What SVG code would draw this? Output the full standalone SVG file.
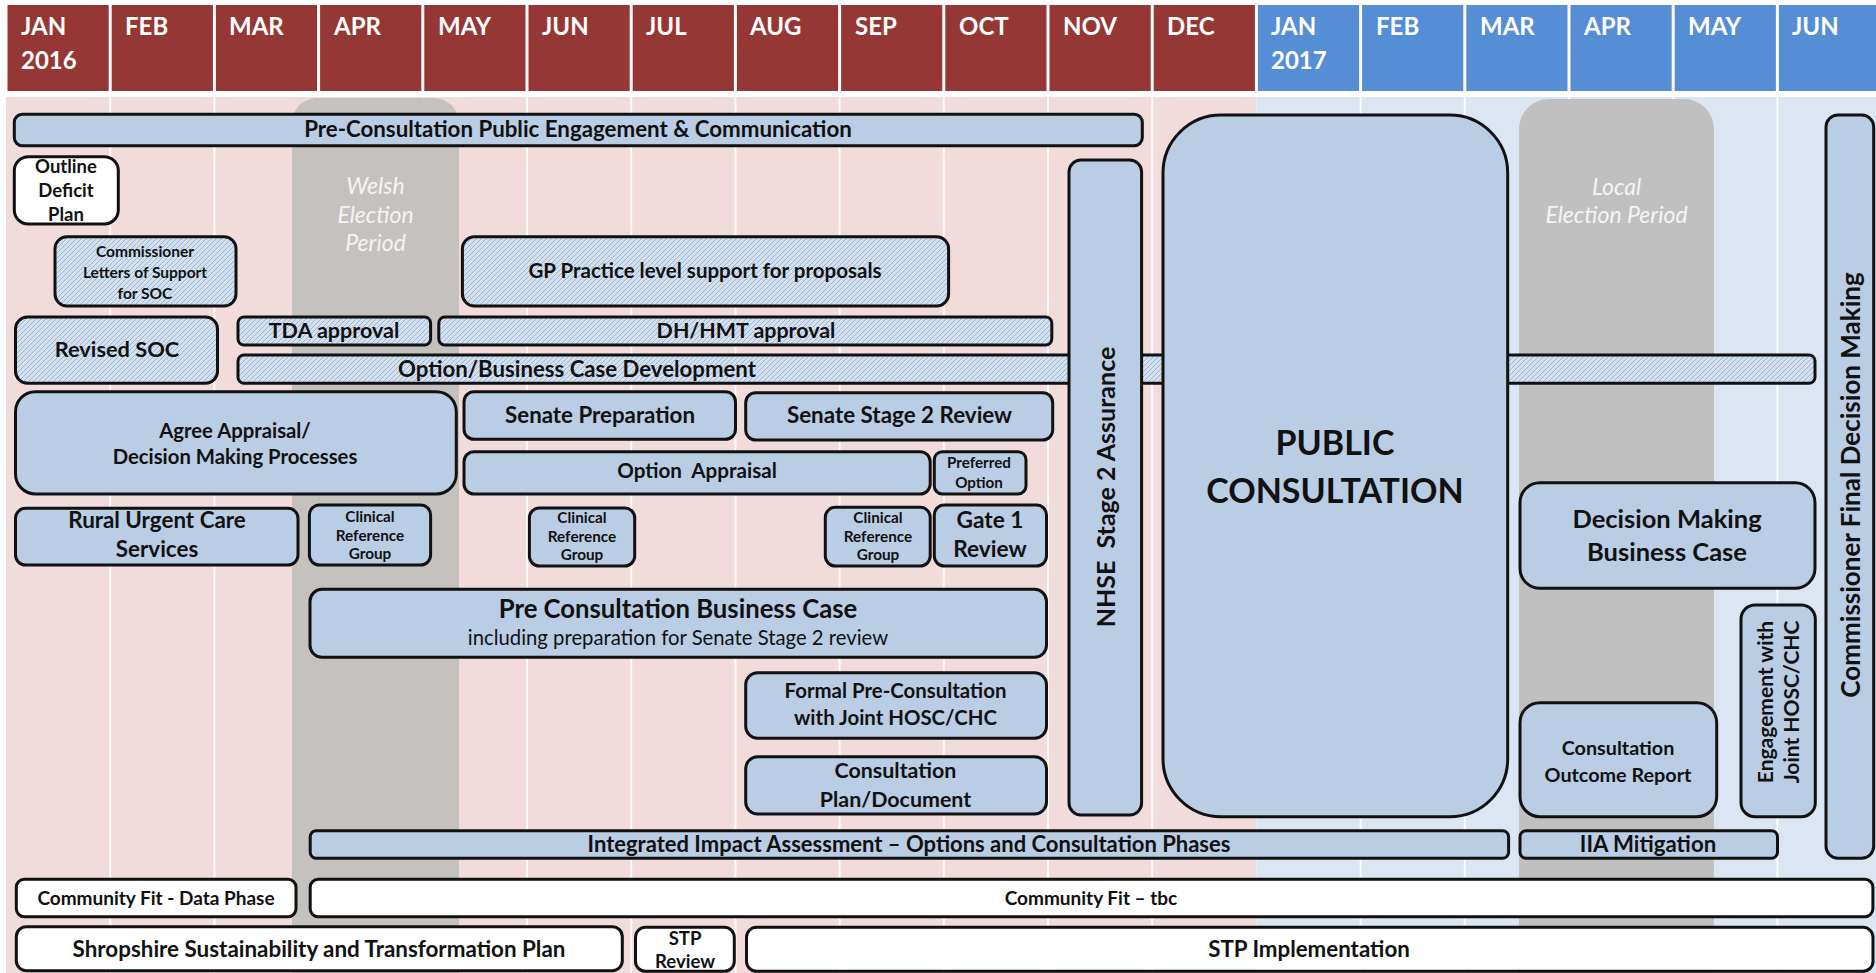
<svg xmlns="http://www.w3.org/2000/svg" width="1876" height="973" viewBox="0 0 1876 973">
<defs>
<pattern id="hatch" patternUnits="userSpaceOnUse" width="5" height="5">
<rect width="5" height="5" fill="#D3E0F0"/>
<path d="M-1,1 L1,-1 M0,5 L5,0 M4,6 L6,4" stroke="#9DB6D6" stroke-width="1"/>
</pattern>
<style>
.hr{fill:#953735}
.hb{fill:#558ED5}
.mt{font-family:Lato,'Liberation Sans',sans-serif;font-weight:bold;font-size:24px;fill:#fff}
.b{fill:#B9CDE5;stroke:#111;stroke-width:3}
.h{fill:url(#hatch);stroke:#111;stroke-width:3}
.w{fill:#fff;stroke:#111;stroke-width:3}
.t{font-family:Lato,'Liberation Sans',sans-serif;font-weight:bold;fill:#111;text-anchor:middle}
.n{font-family:Lato,'Liberation Sans',sans-serif;font-weight:normal;fill:#111;text-anchor:middle}
.el{font-family:Lato,'Liberation Sans',sans-serif;font-style:italic;font-size:23px;fill:#F4F4F4;text-anchor:middle}
.dv{stroke:#fff;stroke-width:2;stroke-opacity:0.85}
</style>
</defs>
<rect width="1876" height="973" fill="#fff"/>
<g id="header">
<rect class="hr" x="7.5" y="5" width="101.2" height="86"/>
<rect class="hr" x="111.7" y="5" width="101.2" height="86"/>
<rect class="hr" x="215.9" y="5" width="101.2" height="86"/>
<rect class="hr" x="320.1" y="5" width="101.2" height="86"/>
<rect class="hr" x="424.3" y="5" width="101.2" height="86"/>
<rect class="hr" x="528.5" y="5" width="101.2" height="86"/>
<rect class="hr" x="632.7" y="5" width="101.2" height="86"/>
<rect class="hr" x="736.9" y="5" width="101.2" height="86"/>
<rect class="hr" x="841.1" y="5" width="101.2" height="86"/>
<rect class="hr" x="945.3" y="5" width="101.2" height="86"/>
<rect class="hr" x="1049.5" y="5" width="101.2" height="86"/>
<rect class="hr" x="1153.7" y="5" width="101.2" height="86"/>
<rect class="hb" x="1257.9" y="5" width="101.2" height="86"/>
<rect class="hb" x="1362.1" y="5" width="101.2" height="86"/>
<rect class="hb" x="1466.3" y="5" width="101.2" height="86"/>
<rect class="hb" x="1570.5" y="5" width="101.2" height="86"/>
<rect class="hb" x="1674.7" y="5" width="101.2" height="86"/>
<rect class="hb" x="1778.9" y="5" width="100" height="86"/>
<text class="mt" x="21" y="35">JAN</text>
<text class="mt" x="21" y="69">2016</text>
<text class="mt" x="125" y="35">FEB</text>
<text class="mt" x="229" y="35">MAR</text>
<text class="mt" x="334" y="35">APR</text>
<text class="mt" x="438" y="35">MAY</text>
<text class="mt" x="542" y="35">JUN</text>
<text class="mt" x="646" y="35">JUL</text>
<text class="mt" x="750" y="35">AUG</text>
<text class="mt" x="855" y="35">SEP</text>
<text class="mt" x="959" y="35">OCT</text>
<text class="mt" x="1063" y="35">NOV</text>
<text class="mt" x="1167" y="35">DEC</text>
<text class="mt" x="1271" y="35">JAN</text>
<text class="mt" x="1271" y="69">2017</text>
<text class="mt" x="1376" y="35">FEB</text>
<text class="mt" x="1480" y="35">MAR</text>
<text class="mt" x="1584" y="35">APR</text>
<text class="mt" x="1688" y="35">MAY</text>
<text class="mt" x="1792" y="35">JUN</text>
</g>
<g id="background">
<rect x="6" y="97" width="1250.4" height="876" fill="#F2DCDB"/>
<rect x="1256.4" y="97" width="619.6" height="876" fill="#DCE6F2"/>
<line class="dv" x1="110.2" y1="97" x2="110.2" y2="973"/>
<line class="dv" x1="214.4" y1="97" x2="214.4" y2="973"/>
<line class="dv" x1="318.6" y1="97" x2="318.6" y2="973"/>
<line class="dv" x1="422.8" y1="97" x2="422.8" y2="973"/>
<line class="dv" x1="527" y1="97" x2="527" y2="973"/>
<line class="dv" x1="631.2" y1="97" x2="631.2" y2="973"/>
<line class="dv" x1="735.4" y1="97" x2="735.4" y2="973"/>
<line class="dv" x1="839.6" y1="97" x2="839.6" y2="973"/>
<line class="dv" x1="943.8" y1="97" x2="943.8" y2="973"/>
<line class="dv" x1="1048" y1="97" x2="1048" y2="973"/>
<line class="dv" x1="1152.2" y1="97" x2="1152.2" y2="973"/>
<line class="dv" x1="1360.6" y1="97" x2="1360.6" y2="973"/>
<line class="dv" x1="1464.8" y1="97" x2="1464.8" y2="973"/>
<line class="dv" x1="1569" y1="97" x2="1569" y2="973"/>
<line class="dv" x1="1673.2" y1="97" x2="1673.2" y2="973"/>
<line class="dv" x1="1777.4" y1="97" x2="1777.4" y2="973"/>
</g>
<g id="welsh-election">
<rect x="292" y="98" width="167" height="900" rx="25" fill="#C5C1BF"/>
<text class="el" x="375.5" y="194">Welsh</text>
<text class="el" x="375.5" y="222.7">Election</text>
<text class="el" x="375.5" y="250.7">Period</text>
</g>
<g id="local-election">
<rect x="1519" y="99" width="195" height="900" rx="30" fill="#C0C0C0"/>
<text class="el" x="1616.5" y="195">Local</text>
<text class="el" x="1616.5" y="223.3">Election Period</text>
</g>
<g id="connectors"></g>
<g id="pre-consultation-engagement">
<rect class="b" x="14.3" y="114.3" width="1128" height="31.4" rx="8"/>
<text class="t" x="578" y="137" font-size="22.3">Pre-Consultation Public Engagement &amp; Communication</text>
</g>
<g id="outline-deficit-plan">
<rect class="w" x="14.3" y="156.7" width="104" height="67.3" rx="14"/>
<text class="t" x="66" y="172.7" font-size="18.5">Outline</text>
<text class="t" x="66" y="196.7" font-size="18.5">Deficit</text>
<text class="t" x="66" y="220.7" font-size="18.5">Plan</text>
</g>
<g id="commissioner-letters">
<rect class="h" x="55" y="236.7" width="181" height="69.3" rx="12"/>
<text class="t" x="145" y="256.7" font-size="15.5">Commissioner</text>
<text class="t" x="145" y="278.3" font-size="15.5">Letters of Support</text>
<text class="t" x="145" y="299" font-size="15.5">for SOC</text>
</g>
<g id="gp-practice">
<rect class="h" x="462.4" y="236.7" width="486.2" height="69.3" rx="12"/>
<text class="t" x="705" y="278" font-size="20.5">GP Practice level support for proposals</text>
</g>
<g id="revised-soc">
<rect class="h" x="15.5" y="317" width="202" height="66.3" rx="12"/>
<text class="t" x="117" y="357" font-size="21.8">Revised SOC</text>
</g>
<g id="option-business-case">
<rect class="h" x="238" y="355" width="1577" height="28.3" rx="6"/>
<text class="t" x="577" y="376.7" font-size="22.2">Option/Business Case Development</text>
</g>
<g id="tda-approval">
<rect class="h" x="238" y="317" width="192.6" height="28" rx="6"/>
<text class="t" x="334" y="338.3" font-size="21.5">TDA approval</text>
</g>
<g id="dh-hmt-approval">
<rect class="h" x="438.8" y="317" width="613" height="28" rx="6"/>
<text class="t" x="746" y="338.3" font-size="21.4">DH/HMT approval</text>
</g>
<g id="agree-appraisal">
<rect class="b" x="15.5" y="391.7" width="440.8" height="102.3" rx="20"/>
<text class="t" x="235" y="438.3" font-size="20.3">Agree Appraisal/</text>
<text class="t" x="235" y="464" font-size="20.3">Decision Making Processes</text>
</g>
<g id="senate-preparation">
<rect class="b" x="464" y="391.7" width="271.5" height="47.6" rx="10"/>
<text class="t" x="600" y="423.3" font-size="22.3">Senate Preparation</text>
</g>
<g id="senate-stage2">
<rect class="b" x="745.7" y="392.7" width="307" height="47.3" rx="10"/>
<text class="t" x="899.5" y="423.3" font-size="22.4">Senate Stage 2 Review</text>
</g>
<g id="option-appraisal">
<rect class="b" x="464" y="451.7" width="466.2" height="42.3" rx="10"/>
<text class="t" x="697" y="478.3" font-size="20.6" xml:space="preserve">Option  Appraisal</text>
</g>
<g id="preferred-option">
<rect class="b" x="934.3" y="451.7" width="91.7" height="42.3" rx="8"/>
<text class="t" x="979" y="468.3" font-size="15.2">Preferred</text>
<text class="t" x="979" y="487.7" font-size="15.2">Option</text>
</g>
<g id="rural-urgent-care">
<rect class="b" x="15.5" y="508.3" width="282.5" height="56.7" rx="10"/>
<text class="t" x="157" y="528.3" font-size="22.4">Rural Urgent Care</text>
<text class="t" x="157" y="557.3" font-size="22.4">Services</text>
</g>
<g id="crg-1">
<rect class="b" x="309.4" y="505" width="121.2" height="60" rx="10"/>
<text class="t" x="370" y="521.7" font-size="15.3">Clinical</text>
<text class="t" x="370" y="540.7" font-size="15.3">Reference</text>
<text class="t" x="370" y="559.3" font-size="15.3">Group</text>
</g>
<g id="crg-2">
<rect class="b" x="529.4" y="508" width="105.3" height="58" rx="10"/>
<text class="t" x="582" y="522.7" font-size="15.3">Clinical</text>
<text class="t" x="582" y="541.7" font-size="15.3">Reference</text>
<text class="t" x="582" y="560" font-size="15.3">Group</text>
</g>
<g id="crg-3">
<rect class="b" x="825.3" y="507.3" width="104.9" height="58.7" rx="10"/>
<text class="t" x="878" y="522.7" font-size="15.3">Clinical</text>
<text class="t" x="878" y="541.7" font-size="15.3">Reference</text>
<text class="t" x="878" y="560" font-size="15.3">Group</text>
</g>
<g id="gate1-review">
<rect class="b" x="934.3" y="505" width="112.2" height="61" rx="10"/>
<text class="t" x="990" y="528.3" font-size="22.7">Gate 1</text>
<text class="t" x="990" y="556.7" font-size="22.7">Review</text>
</g>
<g id="pre-consultation-business-case">
<rect class="b" x="310" y="589.3" width="736.5" height="68" rx="12"/>
<text class="t" x="678" y="618.3" font-size="25.7">Pre Consultation Business Case</text>
<text class="n" x="678" y="645" font-size="20.3">including preparation for Senate Stage 2 review</text>
</g>
<g id="formal-pre-consultation">
<rect class="b" x="745.7" y="672.7" width="300.8" height="65.6" rx="12"/>
<text class="t" x="895.5" y="698.3" font-size="20.4">Formal Pre-Consultation</text>
<text class="t" x="895.5" y="725" font-size="20.4">with Joint HOSC/CHC</text>
</g>
<g id="consultation-plan">
<rect class="b" x="745.7" y="756.7" width="300.8" height="57.3" rx="12"/>
<text class="t" x="895.5" y="778.3" font-size="21.4">Consultation</text>
<text class="t" x="895.5" y="807.3" font-size="21.4">Plan/Document</text>
</g>
<g id="nhse-stage2">
<rect class="b" x="1069" y="160" width="72.6" height="655" rx="12"/>
<text class="t" font-size="25" transform="translate(1114.5,487) rotate(-90)" xml:space="preserve">NHSE  Stage 2 Assurance</text>
</g>
<g id="public-consultation">
<rect class="b" x="1163" y="115" width="344.7" height="701.7" rx="58"/>
<text class="t" x="1335" y="455" font-size="34">PUBLIC</text>
<text class="t" x="1335" y="503.3" font-size="34">CONSULTATION</text>
</g>
<g id="decision-making-business-case">
<rect class="b" x="1520" y="482.7" width="295" height="105.6" rx="20"/>
<text class="t" x="1667" y="528.3" font-size="25.5">Decision Making</text>
<text class="t" x="1667" y="560.7" font-size="25.5">Business Case</text>
</g>
<g id="engagement-hosc">
<rect class="b" x="1741" y="605" width="74.3" height="211.7" rx="14"/>
<text class="t" font-size="21" transform="translate(1773,702) rotate(-90)">Engagement with</text>
<text class="t" font-size="21" transform="translate(1799,702) rotate(-90)">Joint HOSC/CHC</text>
</g>
<g id="commissioner-final-decision">
<rect class="b" x="1826" y="115" width="47.7" height="743.3" rx="12"/>
<text class="t" font-size="26" transform="translate(1860,485) rotate(-90)">Commissioner Final Decision Making</text>
</g>
<g id="consultation-outcome-report">
<rect class="b" x="1520" y="702.7" width="196.7" height="114" rx="20"/>
<text class="t" x="1618" y="755" font-size="19.8">Consultation</text>
<text class="t" x="1618" y="781.7" font-size="19.8">Outcome Report</text>
</g>
<g id="integrated-impact-assessment">
<rect class="b" x="310.2" y="830.7" width="1198.4" height="27.6" rx="6"/>
<text class="t" x="909" y="851.7" font-size="22">Integrated Impact Assessment – Options and Consultation Phases</text>
</g>
<g id="iia-mitigation">
<rect class="b" x="1520" y="830.7" width="257.5" height="27.6" rx="6"/>
<text class="t" x="1648" y="851.7" font-size="22.2">IIA Mitigation</text>
</g>
<g id="community-fit-data">
<rect class="w" x="16.3" y="879.3" width="279.7" height="37.4" rx="8"/>
<text class="t" x="156" y="905" font-size="19">Community Fit - Data Phase</text>
</g>
<g id="community-fit-tbc">
<rect class="w" x="310.2" y="879.3" width="1562.7" height="37.4" rx="8"/>
<text class="t" x="1091" y="905" font-size="19">Community Fit – tbc</text>
</g>
<g id="shropshire-stp">
<rect class="w" x="16.3" y="926.7" width="606" height="44" rx="10"/>
<text class="t" x="319" y="956.7" font-size="22.4">Shropshire Sustainability and Transformation Plan</text>
</g>
<g id="stp-review">
<rect class="w" x="635.5" y="927.3" width="98.8" height="44" rx="10"/>
<text class="t" x="685" y="945" font-size="18.5">STP</text>
<text class="t" x="685" y="968.3" font-size="18.5">Review</text>
</g>
<g id="stp-implementation">
<rect class="w" x="746.5" y="927.3" width="1126.5" height="44" rx="10"/>
<text class="t" x="1309" y="956.7" font-size="22.3">STP Implementation</text>
</g>
</svg>
